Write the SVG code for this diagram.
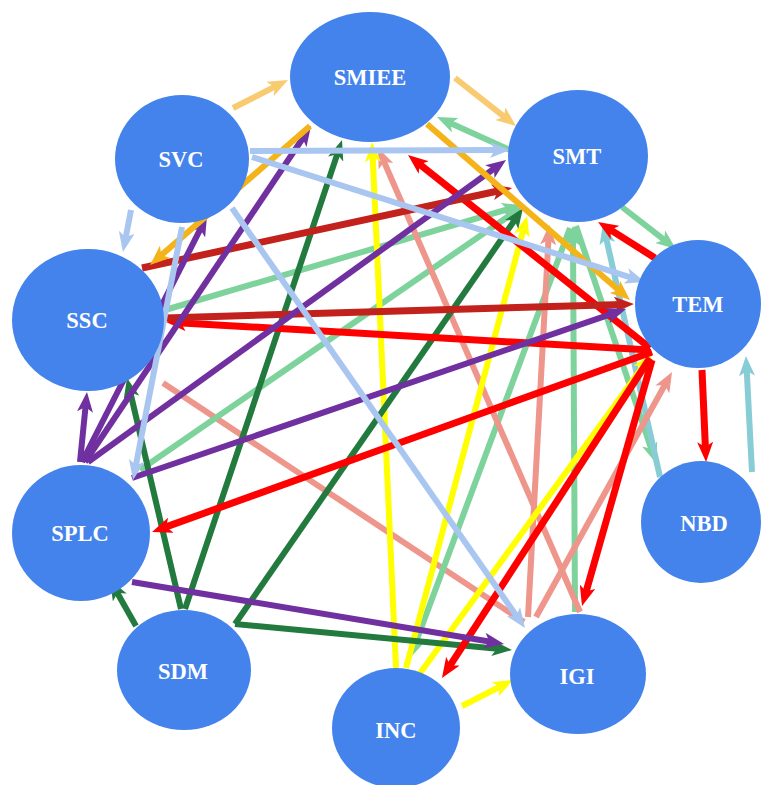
<svg xmlns="http://www.w3.org/2000/svg" width="761" height="785" viewBox="0 0 761 785">
<style>
.c{fill:none;stroke-width:6;stroke-linecap:butt}
.lo{stroke:#F8CB70;marker-end:url(#mLO)}
.o{stroke:#F5B31A;marker-end:url(#mO)}
.lb{stroke:#A9C6F0;marker-end:url(#mLB)}
.t{stroke:#88CDD5;marker-end:url(#mT)}
.lg{stroke:#7DD39B;marker-end:url(#mLG)}
.r{stroke:#FF0000;stroke-width:7;marker-end:url(#mR)}
.dr{stroke:#C3211C;stroke-width:7;marker-end:url(#mDR)}
.p{stroke:#7030A0;marker-end:url(#mP)}
.dg{stroke:#237A3E;marker-end:url(#mDG)}
.y{stroke:#FFFF00;marker-end:url(#mY)}
.pk{stroke:#EE968C;marker-end:url(#mPk)}
.pk0{stroke:#EE968C}
.node ellipse{fill:#4483EC}
.node text{fill:#FFFFFF;font-family:"Liberation Serif","Times New Roman",serif;font-weight:bold;font-size:22.5px;text-anchor:middle}
</style>
<defs>
<marker id="mLO" markerUnits="userSpaceOnUse" markerWidth="20" markerHeight="16" refX="8" refY="8" orient="auto"><path d="M0,0 L20,8 L0,16 L5,8 Z" fill="#F8CB70"/></marker>
<marker id="mO" markerUnits="userSpaceOnUse" markerWidth="20" markerHeight="16" refX="8" refY="8" orient="auto"><path d="M0,0 L20,8 L0,16 L5,8 Z" fill="#F5B31A"/></marker>
<marker id="mLB" markerUnits="userSpaceOnUse" markerWidth="20" markerHeight="16" refX="8" refY="8" orient="auto"><path d="M0,0 L20,8 L0,16 L5,8 Z" fill="#A9C6F0"/></marker>
<marker id="mT" markerUnits="userSpaceOnUse" markerWidth="20" markerHeight="16" refX="8" refY="8" orient="auto"><path d="M0,0 L20,8 L0,16 L5,8 Z" fill="#88CDD5"/></marker>
<marker id="mLG" markerUnits="userSpaceOnUse" markerWidth="20" markerHeight="16" refX="8" refY="8" orient="auto"><path d="M0,0 L20,8 L0,16 L5,8 Z" fill="#7DD39B"/></marker>
<marker id="mR" markerUnits="userSpaceOnUse" markerWidth="20" markerHeight="16" refX="8" refY="8" orient="auto"><path d="M0,0 L20,8 L0,16 L5,8 Z" fill="#FF0000"/></marker>
<marker id="mDR" markerUnits="userSpaceOnUse" markerWidth="20" markerHeight="16" refX="8" refY="8" orient="auto"><path d="M0,0 L20,8 L0,16 L5,8 Z" fill="#C3211C"/></marker>
<marker id="mP" markerUnits="userSpaceOnUse" markerWidth="20" markerHeight="16" refX="8" refY="8" orient="auto"><path d="M0,0 L20,8 L0,16 L5,8 Z" fill="#7030A0"/></marker>
<marker id="mDG" markerUnits="userSpaceOnUse" markerWidth="20" markerHeight="16" refX="8" refY="8" orient="auto"><path d="M0,0 L20,8 L0,16 L5,8 Z" fill="#237A3E"/></marker>
<marker id="mY" markerUnits="userSpaceOnUse" markerWidth="20" markerHeight="16" refX="8" refY="8" orient="auto"><path d="M0,0 L20,8 L0,16 L5,8 Z" fill="#FFFF00"/></marker>
<marker id="mPk" markerUnits="userSpaceOnUse" markerWidth="20" markerHeight="16" refX="8" refY="8" orient="auto"><path d="M0,0 L20,8 L0,16 L5,8 Z" fill="#EE968C"/></marker>
</defs>
<rect width="761" height="785" fill="#FFFFFF"/>
<g id="connectors" class="connectors">
<line class="c pk0" x1="163" y1="383" x2="524" y2="622"/>
<line class="c lg" x1="165" y1="310" x2="510.5" y2="208.4"/>
<line class="c lg" x1="140" y1="470" x2="512.1" y2="213.8"/>
<line class="c lg" x1="570" y1="228" x2="414.2" y2="646.8"/>
<line class="c lg" x1="575" y1="612" x2="573" y2="238"/>
<line class="c lg" x1="576" y1="226" x2="652.2" y2="451.6"/>
<line class="c t" x1="660" y1="477" x2="605.6" y2="235.7"/>
<line class="c t" x1="752" y1="472" x2="746.6" y2="368"/>
<line class="c pk" x1="580" y1="612" x2="382.8" y2="159"/>
<line class="c pk" x1="528" y1="617" x2="548.6" y2="237"/>
<line class="c pk" x1="536" y1="617" x2="666.2" y2="382.5"/>
<line class="c y" x1="396" y1="668" x2="372.6" y2="154"/>
<line class="c y" x1="406" y1="668" x2="523.9" y2="227.6"/>
<line class="c y" x1="418" y1="676" x2="644.9" y2="363.7"/>
<line class="c y" x1="462" y1="706" x2="502.3" y2="685.5"/>
<line class="c dg" x1="136" y1="626" x2="115.9" y2="590.5"/>
<line class="c dg" x1="181" y1="609" x2="129.7" y2="389.7"/>
<line class="c dg" x1="185" y1="609" x2="338.2" y2="151.4"/>
<line class="c dg" x1="235" y1="624" x2="516.2" y2="217.9"/>
<line class="c dg" x1="235" y1="624" x2="500" y2="648.9"/>
<line class="c r" x1="650" y1="348" x2="417.4" y2="162.5"/>
<line class="c r" x1="650" y1="350" x2="178" y2="322.7"/>
<line class="c r" x1="652" y1="352" x2="163.3" y2="527.9"/>
<line class="c r" x1="650" y1="358" x2="448.5" y2="667.9"/>
<line class="c r" x1="652" y1="360" x2="585.3" y2="594.5"/>
<line class="c r" x1="655" y1="258" x2="608.2" y2="228.4"/>
<line class="c r" x1="702" y1="370" x2="705.5" y2="450"/>
<line class="c dr" x1="142" y1="268" x2="500.3" y2="190.5"/>
<line class="c dr" x1="165" y1="318" x2="622" y2="304.4"/>
<line class="c p" x1="80" y1="462" x2="85.8" y2="404"/>
<line class="c p" x1="82" y1="462" x2="201.6" y2="226.7"/>
<line class="c p" x1="85" y1="462" x2="304.3" y2="136"/>
<line class="c p" x1="88" y1="462" x2="496.3" y2="167"/>
<line class="c p" x1="132" y1="478" x2="614.6" y2="312.9"/>
<line class="c p" x1="132" y1="582" x2="492.2" y2="642"/>
<line class="c lg" x1="510" y1="150" x2="447.9" y2="121.9"/>
<line class="c lg" x1="622" y1="207" x2="666.5" y2="241.6"/>
<line class="c o" x1="310" y1="126" x2="159.1" y2="257.1"/>
<line class="c o" x1="427" y1="124" x2="620.9" y2="292.1"/>
<line class="c lb" x1="131" y1="210" x2="125.2" y2="240.2"/>
<line class="c lb" x1="250" y1="151" x2="498" y2="150"/>
<line class="c lb" x1="252" y1="157" x2="633.6" y2="278.4"/>
<line class="c lb" x1="182" y1="227" x2="135.3" y2="468.2"/>
<line class="c lb" x1="232" y1="208" x2="518.1" y2="618.2"/>
<line class="c lo" x1="233" y1="108" x2="277.3" y2="85.4"/>
<line class="c lo" x1="455" y1="78" x2="506.6" y2="118.6"/>
</g>
<g id="SMIEE" class="node"><ellipse cx="370" cy="77" rx="80" ry="65"/><text x="370" y="85">SMIEE</text></g>
<g id="SVC" class="node"><ellipse cx="182" cy="159" rx="67" ry="64"/><text x="181" y="167">SVC</text></g>
<g id="SSC" class="node"><ellipse cx="88" cy="320" rx="76" ry="71"/><text x="87" y="328">SSC</text></g>
<g id="SMT" class="node"><ellipse cx="578" cy="156" rx="70" ry="66"/><text x="577" y="164">SMT</text></g>
<g id="TEM" class="node"><ellipse cx="698" cy="304" rx="63" ry="64"/><text x="698" y="312">TEM</text></g>
<g id="SPLC" class="node"><ellipse cx="81" cy="533" rx="69" ry="68"/><text x="80" y="541">SPLC</text></g>
<g id="SDM" class="node"><ellipse cx="184" cy="670" rx="67" ry="60"/><text x="183" y="679">SDM</text></g>
<g id="INC" class="node"><ellipse cx="396" cy="728" rx="64" ry="60"/><text x="396" y="738">INC</text></g>
<g id="IGI" class="node"><ellipse cx="578" cy="674" rx="68" ry="60"/><text x="577" y="684">IGI</text></g>
<g id="NBD" class="node"><ellipse cx="701" cy="522" rx="60" ry="61"/><text x="704" y="531">NBD</text></g>
</svg>
